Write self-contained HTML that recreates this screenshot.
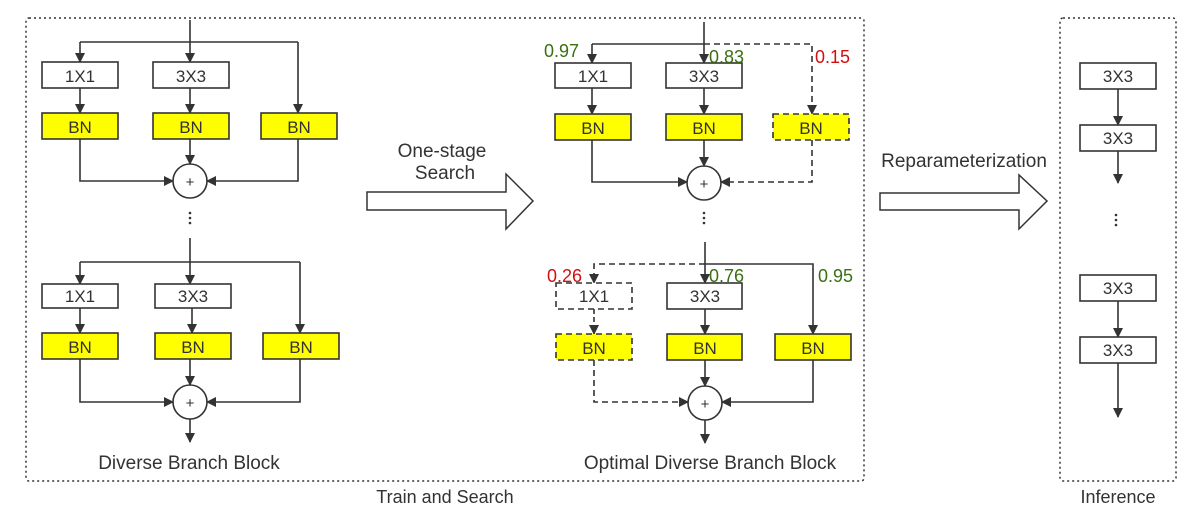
<!DOCTYPE html>
<html><head><style>body{margin:0;background:#fff}svg{display:block}text{font-family:"Liberation Sans",sans-serif;fill:#333}</style></head><body>
<svg width="1191" height="522" viewBox="0 0 1191 522" xmlns="http://www.w3.org/2000/svg">
<defs>
<marker id="a" markerWidth="10" markerHeight="10" refX="9" refY="5" orient="auto" markerUnits="userSpaceOnUse"><path d="M0,0 L10,5 L0,10 Z" fill="#333"/></marker>
</defs>
<g fill="none" stroke="#333" stroke-width="1.5">
<rect x="26" y="18" width="838" height="463" stroke-dasharray="2,3" rx="3"/>
<rect x="1060" y="18" width="116" height="463" stroke-dasharray="2,3" rx="3"/>
</g>

<g stroke="#333" stroke-width="1.6" fill="none">
<path d="M190 20 V62" marker-end="url(#a)"/>
<path d="M80 42 H298"/>
<path d="M80 42 V62" marker-end="url(#a)"/>
<path d="M298 42 V113" marker-end="url(#a)"/>
<path d="M80 88 V113" marker-end="url(#a)"/>
<path d="M190 88 V113" marker-end="url(#a)"/>
<path d="M190 139 V164" marker-end="url(#a)"/>
<path d="M80 139 V181 H173" marker-end="url(#a)"/>
<path d="M298 139 V181 H207" marker-end="url(#a)"/>
<circle cx="190" cy="181" r="17"/>
<path d="M190 238 V284" marker-end="url(#a)"/>
<path d="M80 262 H300"/>
<path d="M80 262 V284" marker-end="url(#a)"/>
<path d="M300 262 V333" marker-end="url(#a)"/>
<path d="M80 308 V333" marker-end="url(#a)"/>
<path d="M192 308 V333" marker-end="url(#a)"/>
<path d="M190 359 V385" marker-end="url(#a)"/>
<path d="M80 359 V402 H173" marker-end="url(#a)"/>
<path d="M300 359 V402 H207" marker-end="url(#a)"/>
<circle cx="190" cy="402" r="17"/>
<path d="M190 419 V442" marker-end="url(#a)"/>
</g>
<g stroke="#333" stroke-width="1.6">
<rect x="42" y="62" width="76" height="26" fill="#fff"/>
<rect x="153" y="62" width="76" height="26" fill="#fff"/>
<rect x="42" y="113" width="76" height="26" fill="#ffff00"/>
<rect x="153" y="113" width="76" height="26" fill="#ffff00"/>
<rect x="261" y="113" width="76" height="26" fill="#ffff00"/>
<rect x="42" y="284" width="76" height="24" fill="#fff"/>
<rect x="155" y="284" width="76" height="24" fill="#fff"/>
<rect x="42" y="333" width="76" height="26" fill="#ffff00"/>
<rect x="155" y="333" width="76" height="26" fill="#ffff00"/>
<rect x="263" y="333" width="76" height="26" fill="#ffff00"/>
</g>
<g font-size="17" text-anchor="middle">
<text x="80" y="82">1X1</text><text x="191" y="82">3X3</text>
<text x="80" y="133">BN</text><text x="191" y="133">BN</text><text x="299" y="133">BN</text>
<text x="80" y="302">1X1</text><text x="193" y="302">3X3</text>
<text x="80" y="353">BN</text><text x="193" y="353">BN</text><text x="301" y="353">BN</text>
<text x="190" y="187" font-size="15">+</text><text x="190" y="408" font-size="15">+</text>
<text x="189" y="469" font-size="19">Diverse Branch Block</text>
</g>
<g fill="#333"><circle cx="190" cy="213" r="1.3"/><circle cx="190" cy="218" r="1.3"/><circle cx="190" cy="223" r="1.3"/>
<circle cx="704" cy="213" r="1.3"/><circle cx="704" cy="218" r="1.3"/><circle cx="704" cy="223" r="1.3"/>
<circle cx="1116" cy="215" r="1.3"/><circle cx="1116" cy="220" r="1.3"/><circle cx="1116" cy="225" r="1.3"/></g>

<g stroke="#333" stroke-width="1.6" fill="none">
<path d="M704 22 V63" marker-end="url(#a)"/>
<path d="M592 44 H704"/>
<path d="M704 44 H812 V114" stroke-dasharray="6,4" marker-end="url(#a)"/>
<path d="M592 44 V63" marker-end="url(#a)"/>
<path d="M592 88 V114" marker-end="url(#a)"/>
<path d="M704 88 V114" marker-end="url(#a)"/>
<path d="M704 140 V166" marker-end="url(#a)"/>
<path d="M592 140 V182 H687" marker-end="url(#a)"/>
<path d="M812 140 V182 H721" stroke-dasharray="6,4" marker-end="url(#a)"/>
<circle cx="704" cy="183" r="17"/>
<path d="M705 242 V283" marker-end="url(#a)"/>
<path d="M705 264 H813 V334" marker-end="url(#a)"/>
<path d="M705 264 H594 V283" stroke-dasharray="6,4" marker-end="url(#a)"/>
<path d="M594 309 V334" stroke-dasharray="5,3" marker-end="url(#a)"/>
<path d="M705 309 V334" marker-end="url(#a)"/>
<path d="M705 360 V386" marker-end="url(#a)"/>
<path d="M594 360 V402 H688" stroke-dasharray="6,4" marker-end="url(#a)"/>
<path d="M813 360 V402 H722" marker-end="url(#a)"/>
<circle cx="705" cy="403" r="17"/>
<path d="M705 420 V443" marker-end="url(#a)"/>
</g>
<g stroke="#333" stroke-width="1.6">
<rect x="555" y="63" width="76" height="25" fill="#fff"/>
<rect x="666" y="63" width="76" height="25" fill="#fff"/>
<rect x="555" y="114" width="76" height="26" fill="#ffff00"/>
<rect x="666" y="114" width="76" height="26" fill="#ffff00"/>
<rect x="773" y="114" width="76" height="26" fill="#ffff00" stroke-dasharray="6,4"/>
<rect x="556" y="283" width="76" height="26" fill="#fff" stroke-dasharray="6,4"/>
<rect x="667" y="283" width="75" height="26" fill="#fff"/>
<rect x="556" y="334" width="76" height="26" fill="#ffff00" stroke-dasharray="6,4"/>
<rect x="667" y="334" width="75" height="26" fill="#ffff00"/>
<rect x="775" y="334" width="76" height="26" fill="#ffff00"/>
</g>
<g font-size="17" text-anchor="middle">
<text x="593" y="82">1X1</text><text x="704" y="82">3X3</text>
<text x="593" y="134">BN</text><text x="704" y="134">BN</text><text x="811" y="134">BN</text>
<text x="594" y="302">1X1</text><text x="705" y="302">3X3</text>
<text x="594" y="354">BN</text><text x="705" y="354">BN</text><text x="813" y="354">BN</text>
<text x="704" y="189" font-size="15">+</text><text x="705" y="409" font-size="15">+</text>
<text x="710" y="469" font-size="19">Optimal Diverse Branch Block</text>
<text x="445" y="503" font-size="18">Train and Search</text>
<text x="1118" y="503" font-size="18">Inference</text>
</g>
<g font-size="18">
<text x="544" y="57" style="fill:#3a7010">0.97</text>
<text x="709" y="63" style="fill:#3a7010">0.83</text>
<text x="815" y="63" style="fill:#d01010">0.15</text>
<text x="547" y="282" style="fill:#d01010">0.26</text>
<text x="709" y="282" style="fill:#3a7010">0.76</text>
<text x="818" y="282" style="fill:#3a7010">0.95</text>
</g>

<g fill="#fff" stroke="#333" stroke-width="1.5">
<path d="M367 192 H506 V174 L533 201 L506 229 V210 H367 Z"/>
<path d="M880 193 H1019 V175 L1047 201 L1019 229 V210 H880 Z"/>
</g>
<g font-size="19" text-anchor="middle">
<text x="442" y="157">One-stage</text>
<text x="445" y="179">Search</text>
<text x="964" y="167">Reparameterization</text>
</g>

<g stroke="#333" stroke-width="1.6" fill="none">
<path d="M1118 89 V125" marker-end="url(#a)"/>
<path d="M1118 151 V183" marker-end="url(#a)"/>
<path d="M1118 301 V337" marker-end="url(#a)"/>
<path d="M1118 363 V417" marker-end="url(#a)"/>
</g>
<g stroke="#333" stroke-width="1.6" fill="#fff">
<rect x="1080" y="63" width="76" height="26"/>
<rect x="1080" y="125" width="76" height="26"/>
<rect x="1080" y="275" width="76" height="26"/>
<rect x="1080" y="337" width="76" height="26"/>
</g>
<g font-size="17" text-anchor="middle">
<text x="1118" y="82">3X3</text><text x="1118" y="144">3X3</text>
<text x="1118" y="294">3X3</text><text x="1118" y="356">3X3</text>
</g>
</svg>
</body></html>
